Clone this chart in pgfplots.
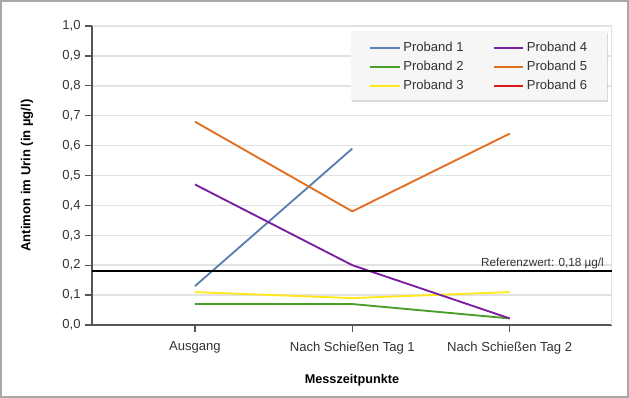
\documentclass[border=0pt]{standalone}
\usepackage{fontspec}
\setmainfont{Liberation Sans}
\usepackage{pgfplots}
\pgfplotsset{compat=1.18}
\usetikzlibrary{shadows}
\definecolor{pblue}{HTML}{5B7FB3}
\definecolor{pgreen}{HTML}{4A9E2A}
\definecolor{pyellow}{HTML}{FFE81C}
\definecolor{ppurple}{HTML}{7A1FA0}
\definecolor{porange}{HTML}{E0701E}
\definecolor{pred}{HTML}{DD1A1A}
\definecolor{gridgray}{HTML}{E2E2E2}
\definecolor{axisgray}{HTML}{555555}
\definecolor{framegray}{HTML}{A8A8A8}
\definecolor{legfill}{HTML}{F6F6F6}
\definecolor{txt}{HTML}{333333}
\begin{document}
\begin{tikzpicture}
\useasboundingbox (0,0) rectangle (471.75pt,298.5pt);
\draw[framegray, line width=1.5pt] (0.75pt,0.75pt) rectangle (471pt,297.75pt);
\begin{axis}[
 at={(69pt,54.75pt)}, anchor=south west,
 scale only axis, width=390pt, height=224.25pt,
 xmin=-0.654, xmax=2.65, ymin=0, ymax=1,
 xtick={0,1,2},
 xticklabels={Ausgang, Nach Schießen Tag 1, Nach Schießen Tag 2},
 ytick={0,0.1,0.2,0.3,0.4,0.5,0.6,0.7,0.8,0.9,1.0},
 axis x line*=bottom, axis y line*=left,
 axis line style={axisgray, line width=1pt, -},
 tick style={axisgray, line width=1pt},
 tick align=outside, major tick length=5pt,
 ymajorgrids, grid style={gridgray, line width=1.1pt},
 /pgf/number format/assume math mode=true,
 yticklabel style={/pgf/number format/.cd, use comma, fixed, fixed zerofill, precision=1},
 ticklabel style={font=\fontsize{9.8}{11}\selectfont, text=txt},
 xticklabel style={yshift=-4pt},
 xlabel={Messzeitpunkte},
 xlabel style={at={(axis description cs:0.5,-0.184)}, anchor=center, font=\bfseries\fontsize{9.5}{11}\selectfont},
 ylabel={Antimon im Urin (in µg/l)},
 ylabel style={at={(axis description cs:-0.125,0.5)}, anchor=center, font=\bfseries\fontsize{9.8}{11}\selectfont},
 legend columns=3, transpose legend,
 legend cell align=left,
 legend image code/.code={\draw[#1, line width=1.4pt] (0pt,0pt) -- (22pt,0pt);},
 legend style={at={(rel axis cs:0.533,0.955)}, anchor=north west, draw=none, fill=none,
   font=\fontsize{9.8}{11}\selectfont, text=txt,
   inner xsep=0pt, inner ysep=0pt, row sep=1.5pt,
   /tikz/every even column/.append style={column sep=20pt}},
]
\fill[legfill, drop shadow={shadow xshift=1pt, shadow yshift=-1.5pt, opacity=0.3}] (rel axis cs:0.498,0.7525) rectangle (rel axis cs:0.990,0.983);
\draw[gridgray, line width=1.1pt] (rel axis cs:1,0) -- (rel axis cs:1,1);
\addplot[pblue, line width=1.4pt] coordinates {(0,0.13) (1,0.59)};
\addlegendentry{Proband 1}
\addplot[pgreen, line width=1.4pt] coordinates {(0,0.07) (1,0.07) (2,0.022)};
\addlegendentry{Proband 2}
\addplot[pyellow, line width=1.4pt] coordinates {(0,0.11) (1,0.09) (2,0.11)};
\addlegendentry{Proband 3}
\addplot[ppurple, line width=1.4pt] coordinates {(0,0.47) (1,0.20) (2,0.022)};
\addlegendentry{Proband 4}
\addplot[porange, line width=1.4pt] coordinates {(0,0.68) (1,0.38) (2,0.64)};
\addlegendentry{Proband 5}
\addlegendimage{pred, line width=1.4pt}
\addlegendentry{Proband 6}
\addplot[black, line width=1.5pt, forget plot] coordinates {(-0.654,0.18) (2.65,0.18)};
\node[anchor=base east, font=\fontsize{8.8}{10}\selectfont, text=txt, inner sep=0pt] at (axis cs:2.60,0.195) {Referenzwert: 0,18 µg/l};
\end{axis}
\end{tikzpicture}
\end{document}
